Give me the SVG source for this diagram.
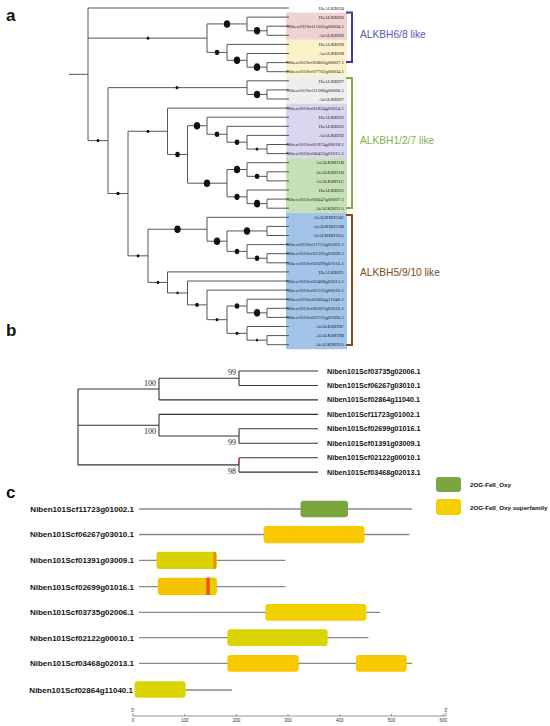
<svg xmlns="http://www.w3.org/2000/svg" width="550" height="726" viewBox="0 0 550 726">
<style>
.br{fill:none;stroke:#555;stroke-width:1}
.dot{fill:#111}
.lf{font-family:"Liberation Serif",serif;font-size:5px;fill:#222;text-anchor:end}
.pl{font-family:"Liberation Sans",Arial,sans-serif;font-weight:bold;font-size:17px;fill:#111}
.grp{font-family:"Liberation Sans",Arial,sans-serif;font-size:10.2px}
.bk{fill:none;stroke-width:2}
.tb{fill:none;stroke:#333;stroke-width:1.1}
.lb{font-family:"Liberation Sans",Arial,sans-serif;font-weight:bold;font-size:7.2px;fill:#111}
.bs{font-family:"Liberation Serif",serif;font-size:8px;fill:#222;text-anchor:end}
.pr{stroke:#888;stroke-width:1.3}
.lc{font-family:"Liberation Sans",Arial,sans-serif;font-weight:bold;font-size:8px;fill:#111;text-anchor:end}
.lg{font-family:"Liberation Sans",Arial,sans-serif;font-weight:bold;font-size:6.2px;fill:#111}
.ax{font-family:"Liberation Sans",Arial,sans-serif;font-size:4.5px;fill:#333;text-anchor:middle}
</style>
<rect width="550" height="726" fill="#fff"/>
<text class="pl" x="6" y="21">a</text>
<text class="pl" x="6" y="336">b</text>
<text class="pl" x="6" y="498">c</text>

<g id="panel-a-boxes">
<rect x="286" y="12.55" width="61" height="27.3" fill="#efd3d3"/>
<rect x="286" y="39.85" width="61" height="36.4" fill="#fdf1cc"/>
<rect x="286" y="76.25" width="61" height="27.3" fill="#eeeeee"/>
<rect x="286" y="103.55" width="61" height="54.6" fill="#d9d5ee"/>
<rect x="286" y="158.15" width="61" height="54.6" fill="#c5e0b5"/>
<rect x="286" y="212.75" width="61" height="136.5" fill="#a2c4e9"/>
</g>

<g id="tree-a-connectors" class="br">
<path d="M69,74.3H88 M88,8V140.59 M88,8H289 M88,38.14H207 M88,140.59H108"/>
<path d="M207,23.925V52.36 M207,23.925H247 M207,52.36H227"/>
<path d="M247,17.1V30.75 M247,17.1H289 M247,30.75H267"/>
<path d="M267,26.2V35.3 M267,26.2H289 M267,35.3H289"/>
<path d="M227,44.4V60.33 M227,44.4H289 M227,60.33H247"/>
<path d="M247,53.5V67.15 M247,53.5H289 M247,67.15H267"/>
<path d="M267,62.6V71.7 M267,62.6H289 M267,71.7H289"/>
<path d="M108,87.63V193.55 M108,87.63H247 M108,193.55H128"/>
<path d="M247,80.8V94.45 M247,80.8H289 M247,94.45H267"/>
<path d="M267,89.9V99 M267,89.9H289 M267,99H289"/>
<path d="M128,131.28V255.83 M128,131.28H167.5 M128,255.83H148"/>
<path d="M167.5,108.1V154.45 M167.5,108.1H289 M167.5,154.45H187.5"/>
<path d="M187.5,125.73V183.18 M187.5,125.73H207 M187.5,183.18H227"/>
<path d="M207,117.2V134.26 M207,117.2H289 M207,134.26H227"/>
<path d="M227,126.3V142.23 M227,126.3H289 M227,142.23H247"/>
<path d="M247,135.4V149.05 M247,135.4H289 M247,149.05H267"/>
<path d="M267,144.5V153.6 M267,144.5H289 M267,153.6H289"/>
<path d="M227,169.53V196.83 M227,169.53H247 M227,196.83H247"/>
<path d="M247,162.7V176.35 M247,162.7H289 M247,176.35H267"/>
<path d="M267,171.8V180.9 M267,171.8H289 M267,180.9H289"/>
<path d="M247,190V203.65 M247,190H289 M247,203.65H267"/>
<path d="M267,199.1V208.2 M267,199.1H289 M267,208.2H289"/>
<path d="M148,229.24V282.42 M148,229.24H207 M148,282.42H167.5"/>
<path d="M207,217.3V241.19 M207,217.3H289 M207,241.19H227"/>
<path d="M227,230.95V251.43 M227,230.95H267 M227,251.43H247"/>
<path d="M267,226.4V235.5 M267,226.4H289 M267,235.5H289"/>
<path d="M247,244.6V258.25 M247,244.6H289 M247,258.25H267"/>
<path d="M267,253.7V262.8 M267,253.7H289 M267,262.8H289"/>
<path d="M167.5,271.9V292.94 M167.5,271.9H289 M167.5,292.94H187.5"/>
<path d="M187.5,281V304.89 M187.5,281H289 M187.5,304.89H207"/>
<path d="M207,290.1V319.68 M207,290.1H289 M207,319.68H227"/>
<path d="M227,306.03V333.33 M227,306.03H247 M227,333.33H247"/>
<path d="M247,299.2V312.85 M247,299.2H289 M247,312.85H267"/>
<path d="M267,308.3V317.4 M267,308.3H289 M267,317.4H289"/>
<path d="M247,326.5V340.15 M247,326.5H289 M247,340.15H267"/>
<path d="M267,335.6V344.7 M267,335.6H289 M267,344.7H289"/>
</g>

<g id="tree-a-support" class="dot">
<ellipse cx="148" cy="38.14" rx="1.4" ry="1.6"/>
<ellipse cx="227" cy="23.93" rx="3.2" ry="3.8"/>
<ellipse cx="257" cy="30.75" rx="3.2" ry="3.8"/>
<ellipse cx="217" cy="52.36" rx="2.3" ry="2.7"/>
<ellipse cx="237" cy="60.33" rx="3.2" ry="3.8"/>
<ellipse cx="257" cy="67.15" rx="3.2" ry="3.8"/>
<ellipse cx="98" cy="140.59" rx="1.4" ry="1.6"/>
<ellipse cx="177" cy="87.63" rx="1.4" ry="1.6"/>
<ellipse cx="257" cy="94.45" rx="3.2" ry="3.8"/>
<ellipse cx="118" cy="193.55" rx="1.6" ry="1.8"/>
<ellipse cx="148" cy="131.28" rx="1.4" ry="1.6"/>
<ellipse cx="177.5" cy="154.45" rx="2.3" ry="2.7"/>
<ellipse cx="197" cy="125.73" rx="3.2" ry="3.8"/>
<ellipse cx="217" cy="134.26" rx="2.3" ry="2.7"/>
<ellipse cx="237" cy="142.23" rx="2.3" ry="2.7"/>
<ellipse cx="257" cy="149.05" rx="1.4" ry="1.6"/>
<ellipse cx="237" cy="169.53" rx="3.2" ry="3.8"/>
<ellipse cx="257" cy="176.35" rx="2.3" ry="2.7"/>
<ellipse cx="207" cy="183.18" rx="3.2" ry="3.8"/>
<ellipse cx="237" cy="196.83" rx="2.6" ry="3.1"/>
<ellipse cx="257" cy="203.65" rx="3.2" ry="3.8"/>
<ellipse cx="138" cy="255.83" rx="1.4" ry="1.6"/>
<ellipse cx="177.5" cy="229.24" rx="3.2" ry="3.8"/>
<ellipse cx="217" cy="241.19" rx="3.2" ry="3.8"/>
<ellipse cx="247" cy="230.95" rx="3.2" ry="3.8"/>
<ellipse cx="237" cy="251.43" rx="2.3" ry="2.7"/>
<ellipse cx="257" cy="258.25" rx="2.3" ry="2.7"/>
<ellipse cx="158" cy="282.42" rx="1.4" ry="1.6"/>
<ellipse cx="177.5" cy="292.94" rx="1.2" ry="1.4"/>
<ellipse cx="197" cy="304.89" rx="1.8" ry="2.1"/>
<ellipse cx="217" cy="319.68" rx="1.4" ry="1.6"/>
<ellipse cx="237" cy="306.03" rx="2.3" ry="2.7"/>
<ellipse cx="257" cy="312.85" rx="3.2" ry="3.8"/>
<ellipse cx="237" cy="333.33" rx="1.5" ry="1.7"/>
<ellipse cx="257" cy="340.15" rx="1.1" ry="1.3"/>
</g>

<g id="tree-a-leaves" class="lf">
<text x="344" y="9.7">HsALKBH4</text>
<text x="344" y="18.8">HsALKBH6</text>
<text x="344" y="27.9">Niben101Scf11162g00004.1</text>
<text x="344" y="37">AtALKBH6</text>
<text x="344" y="46.1">HsALKBH8</text>
<text x="344" y="55.2">AtALKBH8</text>
<text x="344" y="64.3">Niben101Scf03802g00007.1</text>
<text x="344" y="73.4">Niben101Scf07702g00004.1</text>
<text x="344" y="82.5">HsALKBH7</text>
<text x="344" y="91.6">Niben101Scf11380g00006.1</text>
<text x="344" y="100.7">AtALKBH7</text>
<text x="344" y="109.8">Niben101Scf01824g00024.1</text>
<text x="344" y="118.9">HsALKBH2</text>
<text x="344" y="128">HsALKBH3</text>
<text x="344" y="137.1">AtALKBH2</text>
<text x="344" y="146.2">Niben101Scf01974g00018.1</text>
<text x="344" y="155.3">Niben101Scf06423g01015.1</text>
<text x="344" y="164.4">AtALKBH1B</text>
<text x="344" y="173.5">AtALKBH1D</text>
<text x="344" y="182.6">AtALKBH1C</text>
<text x="344" y="191.7">HsALKBH1</text>
<text x="344" y="200.8">Niben101Scf06647g00007.1</text>
<text x="344" y="209.9">AtALKBH1A</text>
<text x="344" y="219">AtALKBH10C</text>
<text x="344" y="228.1">AtALKBH10B</text>
<text x="344" y="237.2">AtALKBH10A</text>
<text x="344" y="246.3">Niben101Scf11723g01002.1</text>
<text x="344" y="255.4">Niben101Scf01391g03009.1</text>
<text x="344" y="264.5">Niben101Scf02699g01016.1</text>
<text x="344" y="273.6">HsALKBH5</text>
<text x="344" y="282.7">Niben101Scf03468g02013.1</text>
<text x="344" y="291.8">Niben101Scf02122g00010.1</text>
<text x="344" y="300.9">Niben101Scf02864g11040.1</text>
<text x="344" y="310">Niben101Scf06267g03010.1</text>
<text x="344" y="319.1">Niben101Scf03735g02006.1</text>
<text x="344" y="328.2">AtALKBH9C</text>
<text x="344" y="337.3">AtALKBH9B</text>
<text x="344" y="346.4">AtALKBH9A</text>
</g>

<g id="group-alkbh68">
<path class="bk" stroke="#3a3a9a" d="M346,12.5H352V62H346"/>
<text class="grp" x="360" y="37.5" fill="#5858b8">ALKBH6/8 like</text>
</g>
<g id="group-alkbh127">
<path class="bk" stroke="#80b040" d="M346,78H352V208H346"/>
<text class="grp" x="360" y="144" fill="#86ae4a">ALKBH1/2/7 like</text>
</g>
<g id="group-alkbh5910">
<path class="bk" stroke="#8b4a14" d="M346,215H352V345H346"/>
<text class="grp" x="360" y="276" fill="#7a4a1a">ALKBH5/9/10 like</text>
</g>

<g id="tree-b-connectors" class="tb">
<path d="M78,389V464.9 M78,389H159 M78,425.2H159 M78,464.9H239"/>
<path d="M159,378.2V399.9 M159,378.2H239 M159,399.9H318"/>
<path d="M239,371V385.45 M239,371H318 M239,385.45H318"/>
<path d="M159,414.35V436 M159,414.35H318 M159,436H239"/>
<path d="M239,428.8V443.25 M239,428.8H318 M239,443.25H318"/>
<path d="M239,457.7V472.15 M239,457.7H318 M239,472.15H318"/>
<path d="M239,457.7V464.9" stroke="#e03060"/>
</g>
<g id="tree-b-support">
<text class="bs" x="236" y="375">99</text>
<text class="bs" x="156" y="386">100</text>
<text class="bs" x="156" y="434">100</text>
<text class="bs" x="236" y="445">99</text>
<text class="bs" x="236" y="474">98</text>
</g>
<g id="tree-b-leaves" class="lb">
<text x="327" y="373.5">Niben101Scf03735g02006.1</text>
<text x="327" y="388">Niben101Scf06267g03010.1</text>
<text x="327" y="402.4">Niben101Scf02864g11040.1</text>
<text x="327" y="416.9">Niben101Scf11723g01002.1</text>
<text x="327" y="431.3">Niben101Scf02699g01016.1</text>
<text x="327" y="445.8">Niben101Scf01391g03009.1</text>
<text x="327" y="460.2">Niben101Scf02122g00010.1</text>
<text x="327" y="474.7">Niben101Scf03468g02013.1</text>
</g>

<g id="legend">
<rect x="436" y="477" width="25" height="15" rx="3" fill="#7aa541"/>
<text class="lg" x="470" y="487">2OG-FeII_Oxy</text>
<rect x="436" y="499" width="25" height="16" rx="3" fill="#f5d000"/>
<text class="lg" x="470" y="509.5">2OG-FeII_Oxy superfamily</text>
</g>

<g id="row-11723">
<text class="lc" x="134" y="512">Niben101Scf11723g01002.1</text>
<line class="pr" x1="139" y1="509" x2="412" y2="509"/>
<rect x="300.5" y="500.7" width="47.5" height="16.6" rx="3" fill="#7aa541"/>
</g>
<g id="row-06267">
<text class="lc" x="134" y="537.3">Niben101Scf06267g03010.1</text>
<line class="pr" x1="139" y1="534.5" x2="409.5" y2="534.5"/>
<rect x="263.6" y="526" width="100.9" height="17.3" rx="3" fill="#f8c800"/>
</g>
<g id="row-01391">
<text class="lc" x="134" y="563.3">Niben101Scf01391g03009.1</text>
<line class="pr" x1="139" y1="560.3" x2="285.4" y2="560.3"/>
<rect x="156.4" y="551.7" width="60.5" height="17.3" rx="3" fill="#d9d200"/>
<rect x="213.5" y="552" width="2.5" height="16.7" fill="#f08a10"/>
</g>
<g id="row-02699">
<text class="lc" x="134" y="589.7">Niben101Scf02699g01016.1</text>
<line class="pr" x1="139" y1="586.7" x2="285.4" y2="586.7"/>
<rect x="157.8" y="577.7" width="59.1" height="17.3" rx="3" fill="#f5c400"/>
<rect x="209.8" y="577.7" width="5" height="17.3" fill="#e2d000"/>
<rect x="206.3" y="577.7" width="3.5" height="17.3" fill="#f05020"/>
</g>
<g id="row-03735">
<text class="lc" x="134" y="615.3">Niben101Scf03735g02006.1</text>
<line class="pr" x1="139" y1="612.3" x2="380" y2="612.3"/>
<rect x="265.4" y="604" width="100.9" height="16.7" rx="3" fill="#f2d000"/>
</g>
<g id="row-02122">
<text class="lc" x="134" y="640.7">Niben101Scf02122g00010.1</text>
<line class="pr" x1="139" y1="637.7" x2="368.4" y2="637.7"/>
<rect x="227.4" y="629.3" width="100.2" height="16.7" rx="3" fill="#dcd400"/>
</g>
<g id="row-03468">
<text class="lc" x="134" y="666.3">Niben101Scf03468g02013.1</text>
<line class="pr" x1="139" y1="663.3" x2="412" y2="663.3"/>
<rect x="227.4" y="655" width="71.4" height="16.7" rx="3" fill="#f8c800"/>
<rect x="356" y="655" width="50.7" height="16.7" rx="3" fill="#f8c800"/>
</g>
<g id="row-02864">
<text class="lc" x="133" y="693">Niben101Scf02864g11040.1</text>
<line class="pr" x1="134.6" y1="690" x2="232" y2="690"/>
<rect x="134.6" y="681.3" width="51" height="16.4" rx="3" fill="#dcd400"/>
</g>

<g id="axis">
<path d="M133,716H446 M133,716V713 M184.7,716V714 M236.4,716V714 M288.1,716V714 M339.8,716V714 M391.5,716V714 M443.2,716V714 M446,716V713" stroke="#777" stroke-width="0.8" fill="none"/>
<text class="ax" x="133" y="712">5'</text>
<text class="ax" x="446" y="712">3'</text>
<text class="ax" x="133" y="722">0</text>
<text class="ax" x="184.7" y="722">100</text>
<text class="ax" x="236.4" y="722">200</text>
<text class="ax" x="288.1" y="722">300</text>
<text class="ax" x="339.8" y="722">400</text>
<text class="ax" x="391.5" y="722">500</text>
<text class="ax" x="443.2" y="722">600</text>
</g>
</svg>
